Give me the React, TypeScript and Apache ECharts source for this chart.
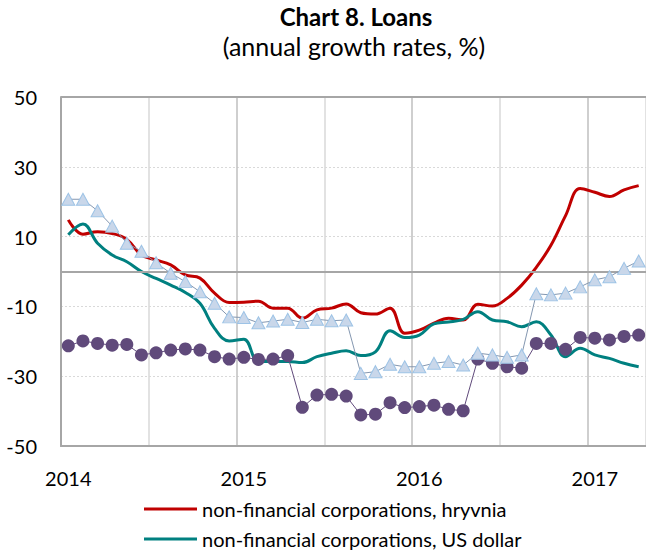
import React, { useEffect, useRef } from "react";
import * as echarts from "echarts";

const months = [
  "2014-01","2014-02","2014-03","2014-04","2014-05","2014-06","2014-07","2014-08","2014-09","2014-10","2014-11","2014-12",
  "2015-01","2015-02","2015-03","2015-04","2015-05","2015-06","2015-07","2015-08","2015-09","2015-10","2015-11","2015-12",
  "2016-01","2016-02","2016-03","2016-04","2016-05","2016-06","2016-07","2016-08","2016-09","2016-10","2016-11","2016-12",
  "2017-01","2017-02","2017-03","2017-04",
];

const yTicks = [-50, -30, -10, 10, 30, 50];

const corpUah = [
  14.8, 10.7, 11.4, 10.9, 9.2, 4.7, 3.3, 1.9, -1.0, -1.9,
  -6.2, -8.9, -8.8, -8.5, -10.5, -10.5, -13.4, -11.0, -10.5, -9.3,
  -11.8, -12.2, -10.5, -17.7, -16.8, -14.8, -13.4, -13.9, -9.4, -9.9,
  -7.7, -3.9, 1.2, 7.5, 16.0, 23.8, 22.7, 21.5, 23.4, 24.6,
];

const corpUsd = [
  10.5, 13.6, 8.1, 4.7, 2.8, 0.0, -2.0, -3.9, -6.0, -9.1,
  -16.3, -19.9, -19.4, -25.8, -25.8, -25.8, -26.1, -24.4, -23.4, -22.7,
  -24.1, -23.0, -17.0, -18.9, -18.2, -15.0, -14.5, -13.7, -11.5, -13.9,
  -14.4, -15.8, -14.4, -18.2, -24.4, -22.0, -23.9, -24.9, -26.3, -27.3,
];

const householdsUsd = [
  -21.3, -19.9, -20.6, -21.1, -20.9, -23.9, -23.3, -22.5, -22.2, -22.5,
  -24.4, -25.1, -24.6, -25.2, -25.1, -24.1, -38.9, -35.4, -35.2, -35.7,
  -41.1, -40.9, -37.6, -39.0, -38.7, -38.3, -39.5, -39.9, -25.1, -26.3,
  -27.3, -27.7, -20.6, -20.6, -22.3, -18.9, -19.1, -19.6, -18.6, -18.2,
];

const householdsUah = [
  20.7, 20.7, 17.4, 13.0, 8.1, 5.8, 2.5, -0.5, -2.9, -5.8,
  -9.1, -13.0, -13.2, -14.7, -14.2, -13.7, -14.6, -13.7, -14.1, -13.9,
  -29.2, -28.7, -26.6, -27.3, -27.3, -26.3, -25.8, -26.8, -23.4, -23.9,
  -24.6, -23.9, -6.4, -6.7, -6.2, -4.4, -2.4, -1.5, 0.9, 3.0,
];

const seriesNames = [
  "non-financial corporations, hryvnia",
  "non-financial corporations, US dollar",
  "households, US dollar",
  "households, hryvnia",
];

const FONT = "Lato, 'Open Sans', sans-serif";

const legendBase = {
  orient: "horizontal",
  left: 144,
  padding: 0,
  itemWidth: 53,
  itemHeight: 3,
  selectedMode: false,
  textStyle: { fontFamily: FONT, fontSize: 20, color: "#000", lineHeight: 20 },
};

export default function App() {
  const ref = useRef<HTMLDivElement>(null);

  useEffect(() => {
    if (!ref.current) return;
    const chart = echarts.init(ref.current, undefined, { renderer: "svg" });
    chart.setOption({
      animation: false,
      backgroundColor: "#ffffff",
      textStyle: { fontFamily: FONT },
      title: [
        {
          text: "Chart 8. Loans",
          left: 356,
          top: 4,
          padding: 0,
          textAlign: "center",
          textStyle: { fontFamily: FONT, fontSize: 24, lineHeight: 25, fontWeight: "bold", color: "#000" },
        },
        {
          text: "(annual growth rates, %)",
          left: 354,
          top: 33,
          padding: 0,
          textAlign: "center",
          textStyle: { fontFamily: FONT, fontSize: 25, lineHeight: 26, fontWeight: "normal", color: "#000" },
        },
      ],
      grid: { left: 61, right: 0, top: 97, bottom: 104, containLabel: false },
      legend: [
        { ...legendBase, top: 499, data: [{ name: seriesNames[0], icon: "rect" }] },
        { ...legendBase, top: 529, data: [{ name: seriesNames[1], icon: "rect" }] },
      ],
      xAxis: {
        type: "category",
        data: months,
        boundaryGap: true,
        axisLine: { show: true, onZero: false, lineStyle: { color: "#a6a6a6", width: 2 } },
        axisTick: { show: false },
        axisLabel: {
          interval: (index: number) => index % 12 === 0,
          formatter: (v: string) => v.slice(0, 4),
          fontFamily: FONT,
          fontSize: 20,
          color: "#000",
          margin: 22,
        },
        splitLine: {
          show: true,
          interval: (index: number) => index % 6 === 0,
          lineStyle: { color: ["#bfbfbf", "#d9d9d9"], width: 1.5 },
        },
      },
      yAxis: {
        type: "value",
        min: -50,
        max: 50,
        interval: 20,
        axisLine: { show: true, lineStyle: { color: "#a6a6a6", width: 2 } },
        axisTick: { show: false },
        axisLabel: {
          fontFamily: FONT,
          fontSize: 20,
          color: "#000",
          margin: 24,
          customValues: yTicks,
        },
        splitLine: { show: true, lineStyle: { color: "#d9d9d9", type: [2, 2], width: 1 } },
      },
      series: [
        {
          name: seriesNames[0],
          type: "line",
          data: corpUah,
          smooth: 0.4,
          showSymbol: false,
          symbol: "none",
          color: "#c00000",
          lineStyle: { color: "#c00000", width: 3 },
          z: 3,
          markLine: {
            silent: true,
            symbol: "none",
            label: { show: false },
            lineStyle: { color: "#a6a6a6", width: 2, type: "solid" },
            data: [{ yAxis: 0 }, { yAxis: 50 }],
          },
        },
        {
          name: seriesNames[1],
          type: "line",
          data: corpUsd,
          smooth: 0.4,
          showSymbol: false,
          symbol: "none",
          color: "#008080",
          lineStyle: { color: "#008080", width: 3 },
          z: 4,
        },
        {
          name: seriesNames[2],
          type: "line",
          data: householdsUsd,
          symbol: "circle",
          symbolSize: 13,
          showSymbol: true,
          showAllSymbol: true,
          itemStyle: { color: "#604a7b" },
          lineStyle: { color: "#604a7b", width: 1 },
          z: 5,
        },
        {
          name: seriesNames[3],
          type: "line",
          data: householdsUah,
          symbol: "triangle",
          symbolSize: [13, 12],
          showSymbol: true,
          showAllSymbol: true,
          itemStyle: { color: "#c9d7ea", borderColor: "#9dc3e6", borderWidth: 1 },
          lineStyle: { color: "#8497b0", width: 1 },
          z: 6,
        },
      ],
    });
    return () => chart.dispose();
  }, []);

  return (
    <div
      ref={ref}
      style={{ position: "fixed", left: 0, top: 0, width: 646, height: 550, background: "#fff" }}
    />
  );
}
